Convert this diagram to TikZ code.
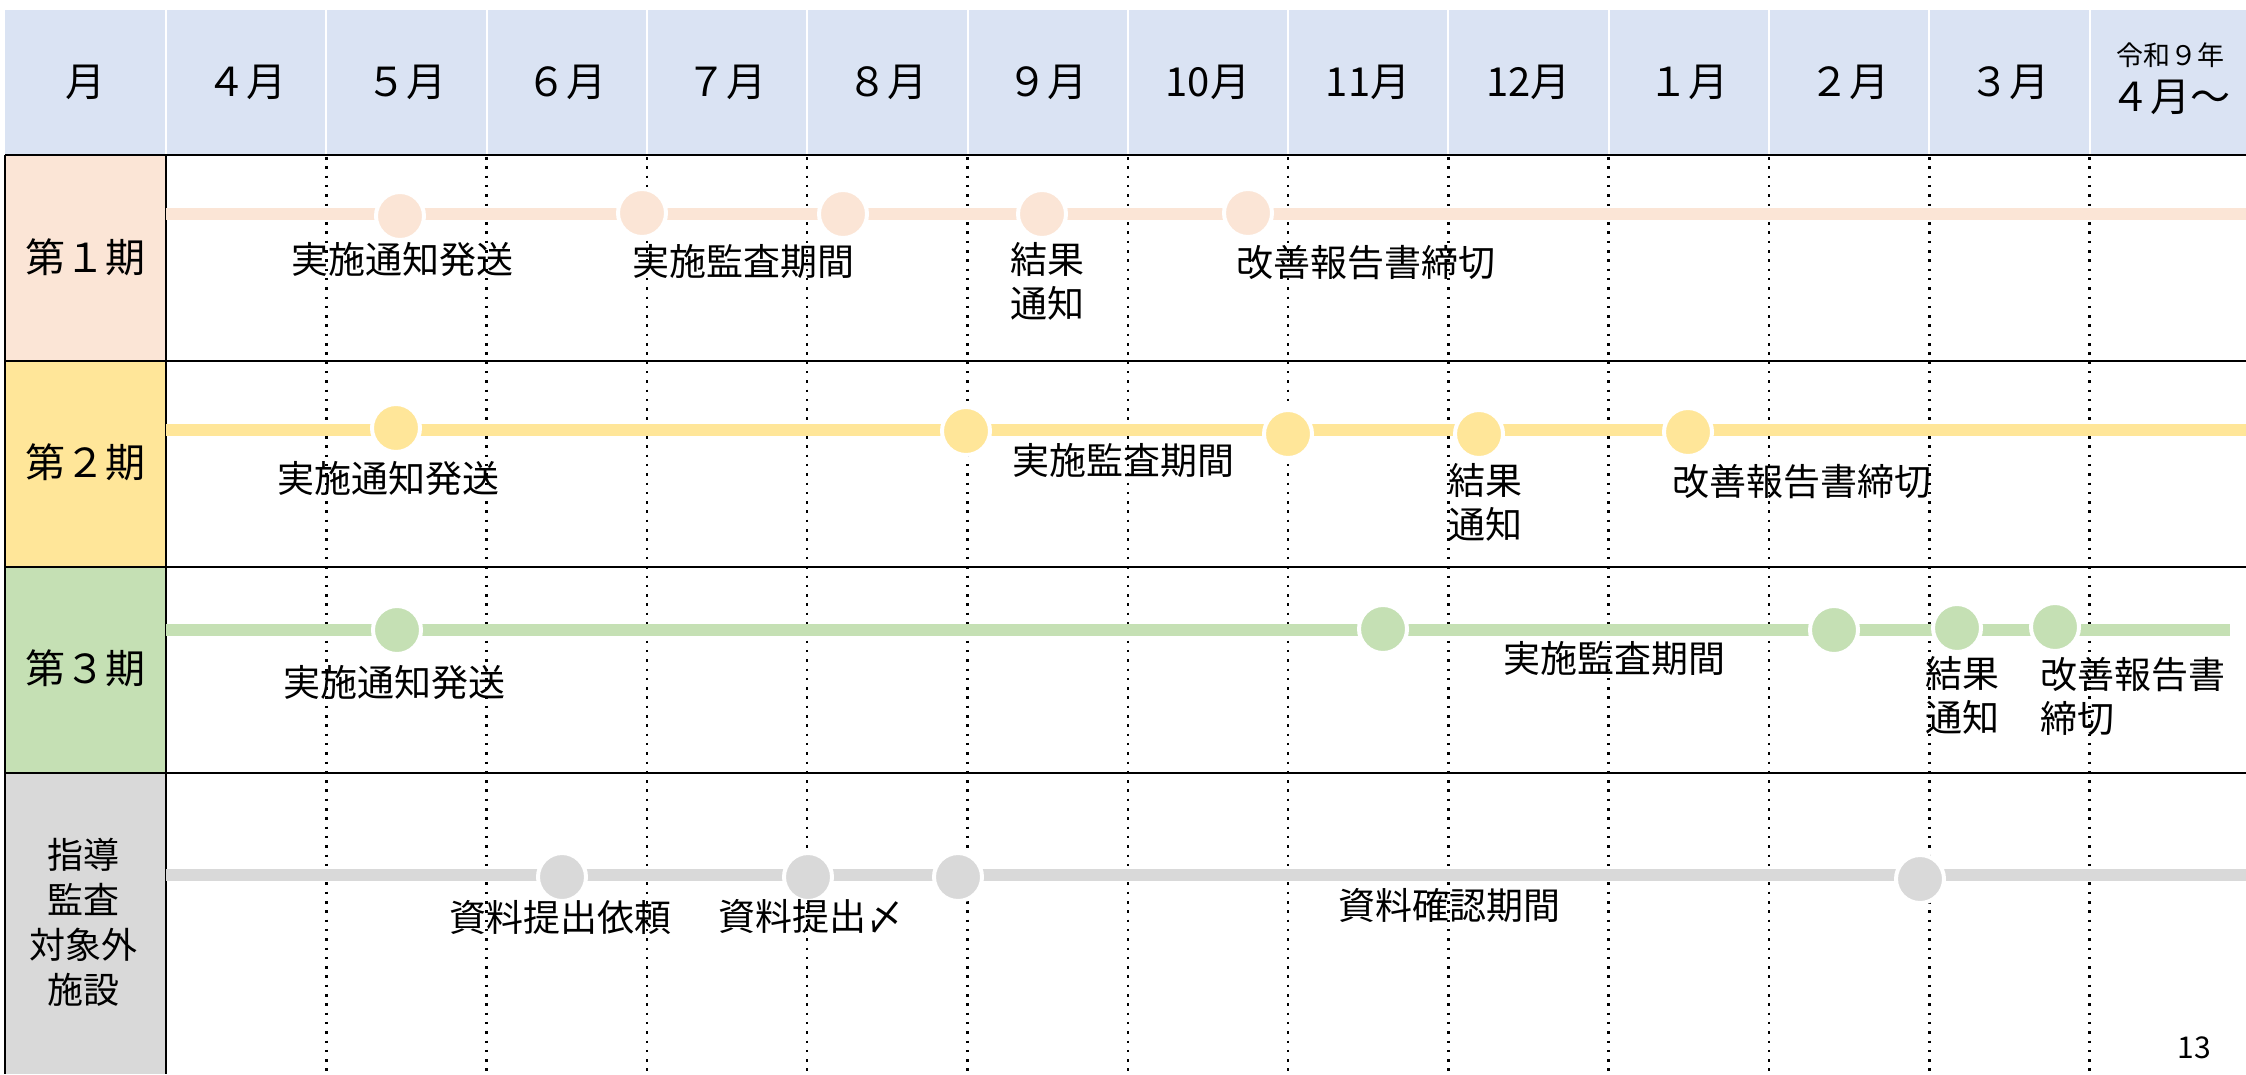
\documentclass[tikz,border=0pt]{standalone}
\usepackage{fontspec}
\setmainfont{Noto Sans CJK JP}
\definecolor{hdr}{HTML}{DAE3F3}
\definecolor{peach}{HTML}{FBE5D6}
\definecolor{yel}{HTML}{FFE699}
\definecolor{grn}{HTML}{C5E0B4}
\definecolor{gry}{HTML}{D9D9D9}
\begin{document}
\begin{tikzpicture}[x=1pt,y=-1pt,
  lbl/.style={inner sep=0pt, font=\fontsize{37}{44}\selectfont, align=center},
  lbll/.style={inner sep=0pt, font=\fontsize{37}{44}\selectfont, align=left},
  hfont/.style={inner sep=0pt, font=\fontsize{40}{46}\selectfont, align=center},
  sidefont/.style={inner sep=0pt, font=\fontsize{36}{45}\selectfont, align=center},
  ev/.style={circle, minimum size=48pt, inner sep=0pt, draw=white, line width=4pt},
  tl/.style={line width=12pt},
  rowsep/.style={line width=2.5pt, black},
  dotv/.style={line width=2.5pt, black, dash pattern=on 2.5pt off 6.8pt},
]
\useasboundingbox (0,0) rectangle (2246,1074);
% header
\fill[hdr] (5,10) rectangle (2246,155);
\foreach \k in {0,...,12} \draw[white, line width=2pt] ({166+160.3*\k},10) -- ({166+160.3*\k},155);
% label cells
\fill[peach] (5,155) rectangle (166,361);
\fill[yel] (5,361) rectangle (166,567);
\fill[grn] (5,567) rectangle (166,773);
\fill[gry] (5,773) rectangle (166,1074);
% dotted month lines
\foreach \k in {1,...,12} \draw[dotv] ({166+160.3*\k},157) -- ({166+160.3*\k},1074);
% borders
\foreach \yy in {155,361,567,773} \draw[rowsep] (5,\yy) -- (2246,\yy);
\draw[rowsep] (5,155) -- (5,1074);
\draw[rowsep] (166,155) -- (166,1074);
% header texts
\node[hfont] (h0) at (85,82) {月};
\foreach \m [count=\i from 0] in {４月,５月,６月,７月,８月,９月,10月,11月,12月,１月,２月,３月}
  \node[hfont] (m\i) at ({246+160.3*\i},82) {\m};
\node[inner sep=0pt, font=\fontsize{27}{30}\selectfont] (ny) at (2170,55) {令和９年};
\node[hfont] (nm) at (2170,97) {４月～};
% side labels
\node[hfont] (s1) at (85,257) {第１期};
\node[hfont] (s2) at (85,462) {第２期};
\node[hfont] (s3) at (85,668) {第３期};
\node[sidefont] (s4) at (83,922) {指導\\監査\\対象外\\施設};
% timelines
\coordinate (r1s) at (166,214); \coordinate (r1e) at (2246,214);
\coordinate (r2s) at (166,430); \coordinate (r2e) at (2246,430);
\coordinate (r3s) at (166,630); \coordinate (r3e) at (2230,630);
\coordinate (r4s) at (166,875); \coordinate (r4e) at (2246,875);
\draw[tl, peach] (r1s) -- (r1e);
\draw[tl, yel] (r2s) -- (r2e);
\draw[tl, grn] (r3s) -- (r3e);
\draw[tl, gry] (r4s) -- (r4e);
% row 1 events
\node[ev, fill=peach] (a1) at (400,216) {};
\node[ev, fill=peach] (a2) at (642,213) {};
\node[ev, fill=peach] (a3) at (843,214) {};
\node[ev, fill=peach] (a4) at (1042,214) {};
\node[ev, fill=peach] (a5) at (1248,213) {};
% row 2 events
\node[ev, fill=yel] (b1) at (396,428) {};
\node[ev, fill=yel] (b2) at (966,431) {};
\node[ev, fill=yel] (b3) at (1288,434) {};
\node[ev, fill=yel] (b4) at (1479,434) {};
\node[ev, fill=yel] (b5) at (1688,432) {};
% row 3 events
\node[ev, fill=grn] (c1) at (397,630) {};
\node[ev, fill=grn] (c2) at (1383,629) {};
\node[ev, fill=grn] (c3) at (1834,630) {};
\node[ev, fill=grn] (c4) at (1957,628) {};
\node[ev, fill=grn] (c5) at (2055,627) {};
% row 4 events
\node[ev, fill=gry] (d1) at (562,877) {};
\node[ev, fill=gry] (d2) at (808,877) {};
\node[ev, fill=gry] (d3) at (958,877) {};
\node[ev, fill=gry] (d4) at (1920,879) {};
% row 1 labels
\node[lbl] (ta1) at (402,260) {実施通知発送};
\node[lbl] (ta2) at (743,261) {実施監査期間};
\node[lbl] (ta3) at (1047,281) {結果\\通知};
\node[lbl] (ta4) at (1366,263) {改善報告書締切};
% row 2 labels
\node[lbl] (tb1) at (388,479) {実施通知発送};
\node[lbl] (tb2) at (1123,460) {実施監査期間};
\node[lbll, anchor=west] (tb3) at (1448,502) {結果\\通知};
\node[lbl] (tb4) at (1802,482) {改善報告書締切};
% row 3 labels
\node[lbl] (tc1) at (394,683) {実施通知発送};
\node[lbl] (tc2) at (1614,658) {実施監査期間};
\node[lbll, anchor=west] (tc3) at (1925,695) {結果\\通知};
\node[lbll, anchor=west] (tc4) at (2040,696) {改善報告書\\締切};
% row 4 labels
\node[lbl] (td1) at (560,918) {資料提出依頼};
\node[lbl] (td2) at (811,916) {資料提出〆};
\node[lbl] (td3) at (1449,905) {資料確認期間};
% page number
\node[inner sep=0pt, font=\fontsize{30}{32}\selectfont] (pg) at (2194,1048) {13};
\end{tikzpicture}
\end{document}
